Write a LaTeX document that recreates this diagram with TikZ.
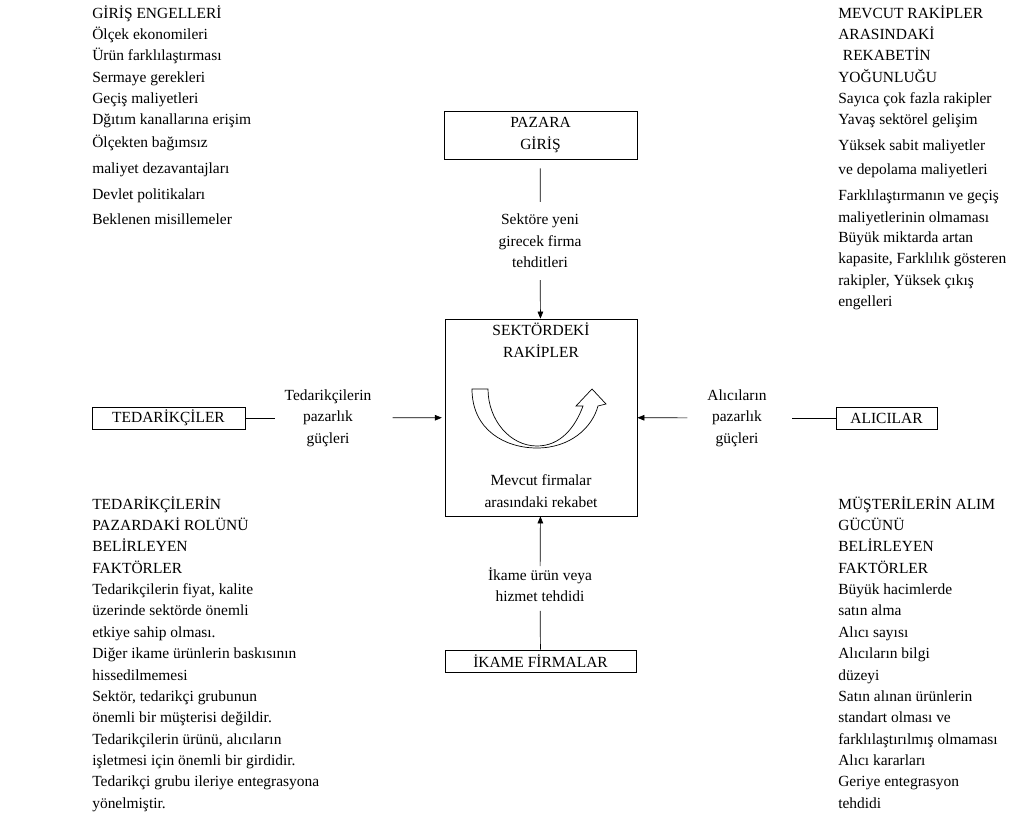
\documentclass[tikz,border=0pt]{standalone}
\usepackage{fontspec}
\setmainfont{Liberation Serif}
\usetikzlibrary{positioning,arrows.meta}

\begin{document}
\begin{tikzpicture}[x=0.025cm, y=-0.025cm, font=\fontsize{11}{15.2}\selectfont,
        block/.style={draw, rectangle, line width=0.5pt, inner sep=0pt, align=center},
        force/.style={align=center, inner sep=0pt},
        factors/.style={align=left, anchor=north west, inner sep=0pt},
        tip/.style={-{Triangle[length=5pt,width=4pt]}, line width=0.5pt}
    ]
        \useasboundingbox (0,0) rectangle (1011,827);

        \node [block, minimum width=4.8cm, minimum height=4.925cm] (rakip) at (541,417.5) {};
        \node [force] (rakipad) at (541,340) {SEKTÖRDEKİ\\RAKİPLER};
        \node [force] (rekabet) at (541,491) {Mevcut firmalar\\arasındaki rekabet};

        \node [block, minimum width=4.825cm, minimum height=1.2cm] (giris) at (540.5,135) {PAZARA\\GİRİŞ};
        \node [block, minimum width=3.825cm, minimum height=0.55cm] (tedarik) at (168.5,418) {TEDARİKÇİLER};
        \node [block, minimum width=2.525cm, minimum height=0.55cm] (alici) at (886.5,418) {ALICILAR};
        \node [block, minimum width=4.775cm, minimum height=0.55cm] (ikame) at (540.5,661) {İKAME FİRMALAR};

        \node [force] (yeni) at (540,241) {Sektöre yeni\\girecek firma\\tehditleri};
        \node [force] (tedguc) at (328,418) {Tedarikçilerin\\pazarlık\\güçleri};
        \node [force] (aliguc) at (737,418) {Alıcıların\\pazarlık\\güçleri};
        \node [force] (ikameurun) at (540,585) {İkame ürün veya\\hizmet tehdidi};

        \draw [line width=0.5pt, shorten <=6.5pt, shorten >=8.5pt] (giris) -- (yeni);
        \draw [tip, shorten <=8.5pt] (yeni) -- (rakip);
        \draw [line width=0.5pt, shorten >=6.5pt] (tedarik) -- (tedguc);
        \draw [tip, shorten <=15pt, shorten >=2pt] (tedguc) -- (rakip);
        \draw [line width=0.5pt, shorten <=18pt] (aliguc) -- (alici);
        \draw [tip, shorten <=14pt] (aliguc) -- (rakip);
        \draw [line width=0.5pt, shorten >=6pt] (ikame) -- (ikameurun);
        \draw [tip, shorten <=1pt] (ikameurun) -- (rakip);

        % rekabet okunu
        \draw [line width=0.5pt] (472,389) .. controls (472,430) and (505,448) .. (537,448)
            .. controls (570,448) and (592,428) .. (598,406) -- (606,404) -- (592,389) -- (576,406) -- (583,406)
            .. controls (575,428) and (560,446) .. (537,446)
            .. controls (510,446) and (488,420) .. (488,389) -- cycle;

        % faktor listeleri
        \node [factors] (engeller) at (92,5) {GİRİŞ ENGELLERİ\\Ölçek ekonomileri\\Ürün farklılaştırması\\Sermaye gerekleri\\Geçiş maliyetleri\\Dğıtım kanallarına erişim\\[1.2pt]Ölçekten bağımsız\\[3.3pt]maliyet dezavantajları\\[2.6pt]Devlet politikaları\\[2.6pt]Beklenen misillemeler};
        \node [factors] (yogunluk) at (838,5) {MEVCUT RAKİPLER\\ARASINDAKİ\\\hspace{0.3em}REKABETİN\\YOĞUNLUĞU\\Sayıca çok fazla rakipler\\Yavaş sektörel gelişim\\[3.3pt]Yüksek sabit maliyetler\\[1.9pt]ve depolama maliyetleri\\[3.3pt]Farklılaştırmanın ve geçiş\\maliyetlerinin olmaması\\[-1pt]Büyük miktarda artan\\kapasite, Farklılık gösteren\\rakipler, Yüksek çıkış\\engelleri};
        \node [factors] (tedfaktor) at (92,496) {TEDARİKÇİLERİN\\PAZARDAKİ ROLÜNÜ\\BELİRLEYEN\\FAKTÖRLER\\Tedarikçilerin fiyat, kalite\\üzerinde sektörde önemli\\etkiye sahip olması.\\Diğer ikame ürünlerin baskısının\\hissedilmemesi\\Sektör, tedarikçi grubunun\\önemli bir müşterisi değildir.\\Tedarikçilerin ürünü, alıcıların\\işletmesi için önemli bir girdidir.\\Tedarikçi grubu ileriye entegrasyona\\yönelmiştir.};
        \node [factors] (alifaktor) at (838,496) {MÜŞTERİLERİN ALIM\\GÜCÜNÜ\\BELİRLEYEN\\FAKTÖRLER\\Büyük hacimlerde\\satın alma\\Alıcı sayısı\\Alıcıların bilgi\\düzeyi\\Satın alınan ürünlerin\\standart olması ve\\farklılaştırılmış olmaması\\Alıcı kararları\\Geriye entegrasyon\\tehdidi};
    \end{tikzpicture}
\end{document}
